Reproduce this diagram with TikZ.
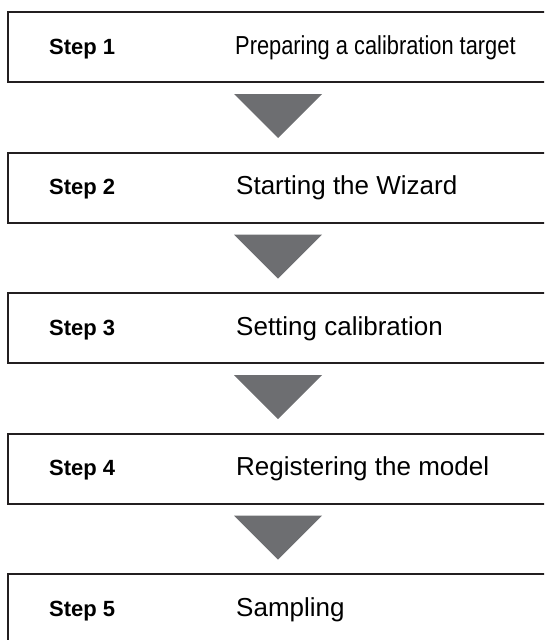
\documentclass[tikz,border=0pt]{standalone}
\usepackage{fontspec}
\setmainfont{Liberation Sans}
\usetikzlibrary{calc}
\definecolor{edgecol}{HTML}{231F20}
\definecolor{tricol}{HTML}{6D6E71}
\begin{document}
\begin{tikzpicture}[x=1pt,y=-1pt,
  stepbox/.style={draw=edgecol, line width=2pt, minimum width=580pt, minimum height=70pt,
    inner sep=0pt, outer sep=0pt, anchor=north west},
  steplabel/.style={font=\bfseries\fontsize{22}{26}\selectfont, anchor=base west, inner sep=0pt},
  desc/.style={font=\fontsize{26}{30}\selectfont, anchor=base west, inner sep=0pt},
  arrowtri/.style={fill=tricol}]
\useasboundingbox (0,0) rectangle (544,640);
\clip (0,0) rectangle (544,640);
% boxes
\node[stepbox] (b1) at (8,12) {};
\node[stepbox] (b2) at (8,152.5) {};
\node[stepbox] (b3) at (8,293) {};
\node[stepbox] (b4) at (8,433.5) {};
\node[stepbox] (b5) at (8,574) {};
% labels
\node[steplabel] (s1) at ($(b1.north west)+(41,42)$) {Step 1};
\node[steplabel] (s2) at ($(b2.north west)+(41,42)$) {Step 2};
\node[steplabel] (s3) at ($(b3.north west)+(41,42)$) {Step 3};
\node[steplabel] (s4) at ($(b4.north west)+(41,42)$) {Step 4};
\node[steplabel] (s5) at ($(b5.north west)+(41,42)$) {Step 5};
\node[desc] (d1) at ($(b1.north west)+(227,42)$) {\scalebox{0.84}[1]{Preparing a calibration target}};
\node[desc] (d2) at ($(b2.north west)+(228,42)$) {Starting the Wizard};
\node[desc] (d3) at ($(b3.north west)+(228,42)$) {Setting calibration};
\node[desc] (d4) at ($(b4.north west)+(228,42)$) {Registering the model};
\node[desc] (d5) at ($(b5.north west)+(228,42)$) {Sampling};
% arrow triangles
\foreach \b in {b1,b2,b3,b4}{
  \fill[arrowtri] ($(\b.south west)+(226,12)$) -- ($(\b.south west)+(314,12)$)
    -- ($(\b.south west)+(270,56)$) -- cycle;
}
\end{tikzpicture}
\end{document}
